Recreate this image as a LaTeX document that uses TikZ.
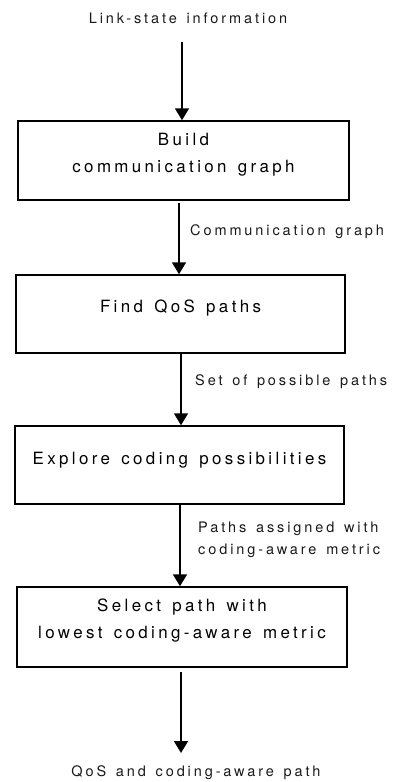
\documentclass[tikz,border=0pt]{standalone}
\usepackage{fontspec}
\setmainfont[LetterSpace=20,WordSpace=1.4]{TeX Gyre Heros}
\usetikzlibrary{arrows.meta}
\tikzset{
  box/.style={draw=black, line width=1.5pt, rectangle, inner sep=0pt},
  boxtext/.style={font={\fontsize{16.9}{27}\selectfont}, align=center, text=black},
  lbl/.style={font={\fontsize{14.5}{22}\selectfont}, align=left, text=black!90, inner sep=0pt},
  flow/.style={line width=1.7pt, -{Triangle[width=14pt,length=12pt]}}
}
\begin{document}
\begin{tikzpicture}[x=1pt,y=-1pt]
\useasboundingbox (0,0) rectangle (398,782);
% boxes
\node[box, minimum width=331pt, minimum height=79pt,
      label={[boxtext, yshift=6pt]center:Build\\communication graph}] (b1) at (183.5,160.5) {};
\node[box, minimum width=329pt, minimum height=78pt,
      label={[boxtext, yshift=6pt]center:Find QoS paths}] (b2) at (180.5,314) {};
\node[box, minimum width=329pt, minimum height=78pt,
      label={[boxtext, yshift=5pt]center:Explore coding possibilities}] (b3) at (179.5,465) {};
\node[box, minimum width=330pt, minimum height=80pt,
      label={[boxtext, yshift=6pt]center:Select path with\\lowest coding-aware metric}] (b4) at (182,627) {};
% texts
\node[lbl] (top) at (188,18) {Link-state information};
\node[lbl] (bot) at (196,773) {QoS and coding-aware path};
\node[lbl, anchor=west] (l2) at (190,232) {Communication graph};
\node[lbl, anchor=west] (l3) at (195,382) {Set of possible paths};
\node[lbl, anchor=west] (l4) at (198,540) {Paths assigned with\\coding-aware metric};
% arrow endpoints
\coordinate (a1s) at (182,42);
\coordinate (a2s) at (179,203);
\coordinate (a3s) at (181,353);
\coordinate (a4s) at (180,504);
\coordinate (a5s) at (181,672);
\coordinate (a5e) at (181,753);
% arrows
\draw[flow] (a1s) -- (a1s |- b1.north);
\draw[flow] (a2s) -- (a2s |- b2.north);
\draw[flow] (a3s) -- (a3s |- b3.north);
\draw[flow] (a4s) -- (a4s |- b4.north);
\draw[flow] (a5s) -- (a5e);
\end{tikzpicture}
\end{document}
